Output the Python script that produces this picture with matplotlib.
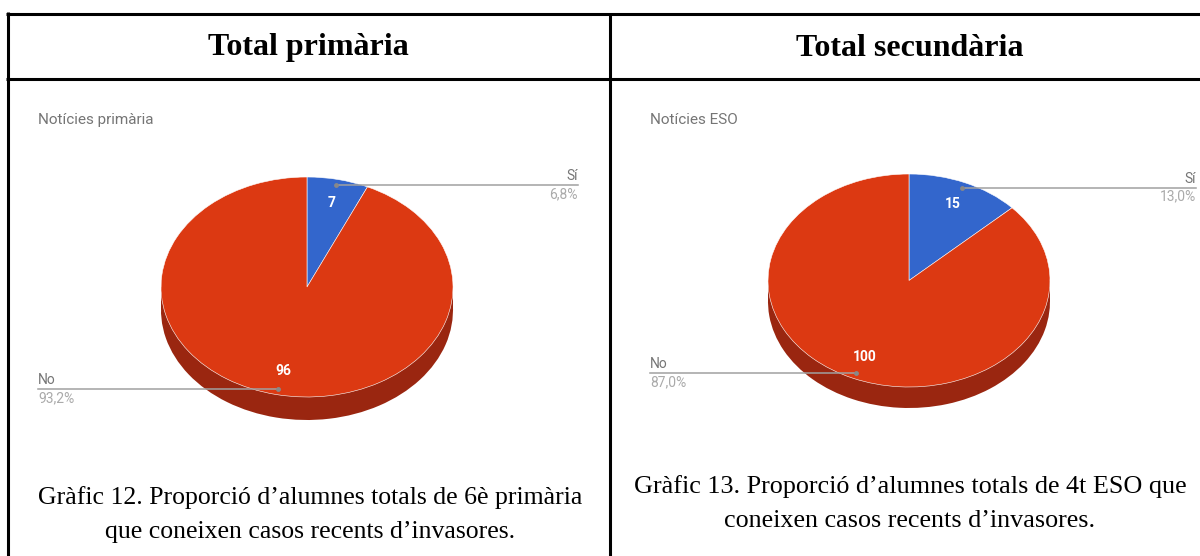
import numpy as np
import matplotlib.pyplot as plt
from matplotlib.patches import Rectangle

# data
categories = ['Sí', 'No']
primaria_values = [7, 96]
eso_values = [15, 100]
headers = ['Total primària', 'Total secundària']
chart_titles = ['Notícies primària', 'Notícies ESO']
captions = [
    'Gràfic 12. Proporció d\u2019alumnes totals de 6è primària\nque coneixen casos recents d\u2019invasores.',
    'Gràfic 13. Proporció d\u2019alumnes totals de 4t ESO que\nconeixen casos recents d\u2019invasores.',
]

BLUE = '#3366CC'
RED = '#DC3912'
SIDE = '#9a2610'
GRID = '#a0a0a0'

W, H = 1200, 556
fig = plt.figure(figsize=(12, 5.56), dpi=100)

# overlay in pixel coordinates for table, texts, leader lines
ov = fig.add_axes([0, 0, 1, 1], zorder=5)
ov.set_xlim(0, W)
ov.set_ylim(H, 0)
ov.axis('off')
ov.patch.set_alpha(0)


def pie3d(values, cx, cy, a, b, depth, left_x, right_x):
    ax = fig.add_axes([(cx - 200) / W, 1 - (cy + 160) / H, 400 / W, 320 / H])
    d = depth / b
    # extruded side
    ax.pie(values, colors=[SIDE, SIDE], startangle=90, counterclock=False,
           center=(0, -d), wedgeprops=dict(linewidth=0))
    ax.add_patch(Rectangle((-1, -d), 2, d, color=SIDE, lw=0))
    total = sum(values)
    wedges, _, autotexts = ax.pie(
        values, colors=[BLUE, RED], startangle=90, counterclock=False,
        autopct=lambda p: f'{round(p * total / 100):d}', pctdistance=0.78,
        wedgeprops=dict(edgecolor='white', linewidth=0.4),
        textprops=dict(color='white', fontsize=10, fontweight='bold', family='Roboto'))
    ax.set_aspect('auto')
    ax.set_xlim(-200 / a, 200 / a)
    ax.set_ylim(-160 / b, 160 / b)

    for w, cat, v in zip(wedges, categories, values):
        mid = np.deg2rad((w.theta1 + w.theta2) / 2)
        px = cx + 0.95 * a * np.cos(mid)
        py = cy - 0.95 * b * np.sin(mid)
        pct = f'{100 * v / total:.1f}%'.replace('.', ',')
        if np.cos(mid) >= 0:
            x0, x1, tx, ha = px, right_x, right_x, 'right'
        else:
            x0, x1, tx, ha = left_x, px, left_x, 'left'
        ov.plot([x0, x1], [py, py], color=GRID, lw=1.1)
        ov.text(tx, py - 9, cat, ha=ha, va='center', fontsize=10,
                color='#757575', family='Roboto')
        ov.text(tx, py + 9, pct, ha=ha, va='center', fontsize=10,
                color='#aaaaaa', family='Roboto')
        ov.plot(px, py, 'o', color='#888888', ms=3.5, mec='none')


pie3d(primaria_values, 307, 287, 146, 110, 23, 38, 578)
pie3d(eso_values, 909, 280.5, 141, 106.5, 21, 650, 1196)

# table lines
lw = 2.2
ov.plot([6.4, W], [13.5, 13.5], color='black', lw=lw, solid_capstyle='butt')
ov.plot([6.4, W], [79, 79], color='black', lw=lw, solid_capstyle='butt')
ov.plot([7.5, 7.5], [12.4, H], color='black', lw=lw, solid_capstyle='butt')
ov.plot([609.5, 609.5], [13.5, H], color='black', lw=lw, solid_capstyle='butt')

# headers
ov.text(308, 48, headers[0], ha='center', va='center', fontsize=23,
        fontweight='bold', family='Liberation Serif')
ov.text(910, 48, headers[1], ha='center', va='center', fontsize=23,
        fontweight='bold', family='Liberation Serif')

# chart titles
ov.text(38, 120, chart_titles[0], ha='left', va='center', fontsize=11,
        color='#757575', family='Roboto')
ov.text(650, 120, chart_titles[1], ha='left', va='center', fontsize=11,
        color='#757575', family='Roboto')

# captions
ov.text(310, 514.5, captions[0], ha='center', va='center', fontsize=18.5,
        family='Liberation Serif', linespacing=1.72)
ov.text(910, 503.5, captions[1], ha='center', va='center', fontsize=18.8,
        family='Liberation Serif', linespacing=1.7)

fig.savefig('out.png', dpi=100)
